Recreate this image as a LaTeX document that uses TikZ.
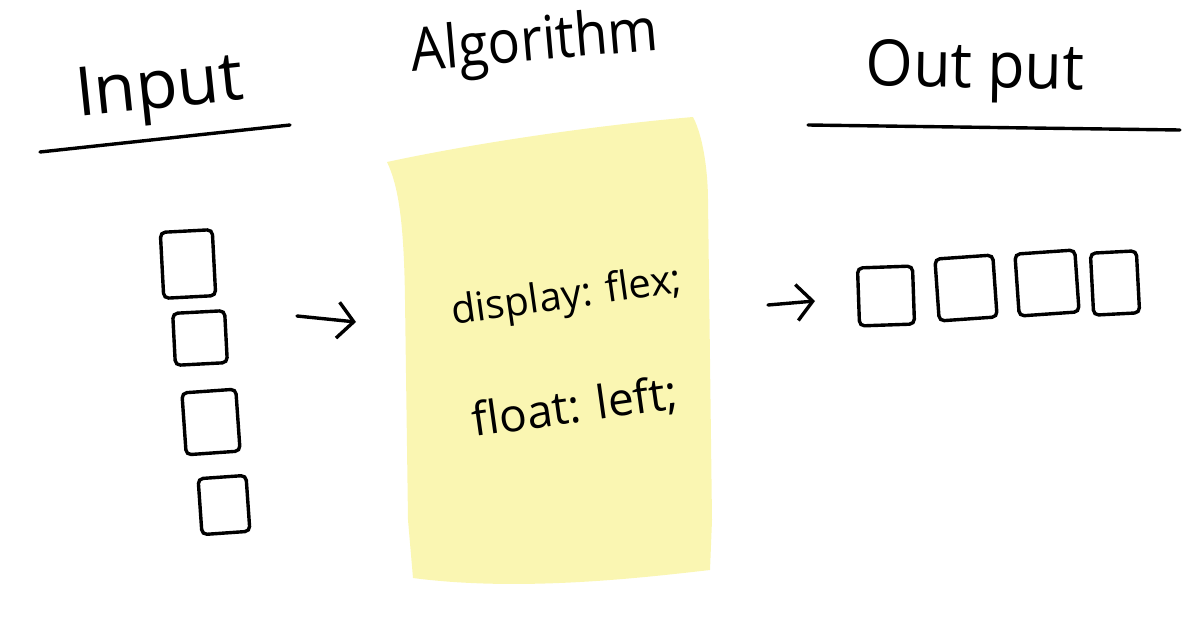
\documentclass[tikz,border=0pt]{standalone}
\usepackage{fontspec}
\setmainfont{Open Sans}
\usepackage{xcolor}
\usepackage{tikz}
\usetikzlibrary{arrows.meta, positioning}

\definecolor{notey}{RGB}{250,246,178}

\tikzset{
    sq/.style={draw, line width=3.4pt, rounded corners=5pt, inner sep=0pt},
    hand/.style={text=black, inner sep=0pt},
    sk/.style={line width=3.4pt, line cap=round},
    arr/.style={sk, -{Straight Barb[length=16pt, width=36pt, line width=3.4pt]}}
}

\begin{document}
\begin{tikzpicture}[x=1pt, y=-1pt]
        \useasboundingbox (0,0) rectangle (1198,618);

        \fill[notey] (387,162) .. controls (480,142) and (600,125) .. (693,117)
            .. controls (705,140) and (708,180) .. (708,200)
            -- (712,520) -- (710,570)
            .. controls (640,578) and (520,592) .. (413,578)
            -- (408,520) -- (405,300) .. controls (404,220) and (398,185) .. (387,162);

        \node[hand, rotate=6, font=\fontsize{68}{68}\selectfont] (input) at (160,92) {Input};
        \node[hand, rotate=5, font=\fontsize{60}{60}\selectfont, xscale=0.9] (algo) at (535,45) {Algorithm};
        \node[hand, rotate=-1, font=\fontsize{64}{64}\selectfont, xscale=0.95] (output) at (975,72) {Out put};

        \coordinate (ul1) at (40,152);
        \coordinate (ul2) at (290,125);
        \coordinate (ur1) at (808,125);
        \coordinate (ur2) at (1180,130);
        \draw[sk] (ul1) -- (ul2);
        \draw[sk] (ur1) -- (ur2);

        \node[hand, rotate=8, font=\fontsize{40}{40}\selectfont] (flex) at (567,298) {display: flex;};
        \node[hand, rotate=8, font=\fontsize{46}{46}\selectfont] (float) at (575,408) {float: left;};

        \node[sq, minimum width=52pt, minimum height=66pt, rotate=3] (in1) at (188,264) {};
        \node[sq, minimum width=52pt, minimum height=52pt, rotate=3] (in2) at (200,338) {};
        \node[sq, minimum width=54pt, minimum height=62pt, rotate=4] (in3) at (211,422) {};
        \node[sq, minimum width=48pt, minimum height=56pt, rotate=4] (in4) at (224,505) {};

        \node[sq, minimum width=55pt, minimum height=58pt, rotate=2] (out1) at (886,296) {};
        \node[sq, minimum width=58pt, minimum height=62pt, rotate=4] (out2) at (966,288) {};
        \node[sq, minimum width=60pt, minimum height=62pt, rotate=4] (out3) at (1047,283) {};
        \node[sq, minimum width=46pt, minimum height=62pt, rotate=3] (out4) at (1115,283) {};

        \coordinate (a1) at (297,316);
        \coordinate (a2) at (356,322);
        \coordinate (b1) at (768,305);
        \coordinate (b2) at (815,301);
        \draw[arr] (a1) -- (a2);
        \draw[arr] (b1) -- (b2);

\end{tikzpicture}
\end{document}
